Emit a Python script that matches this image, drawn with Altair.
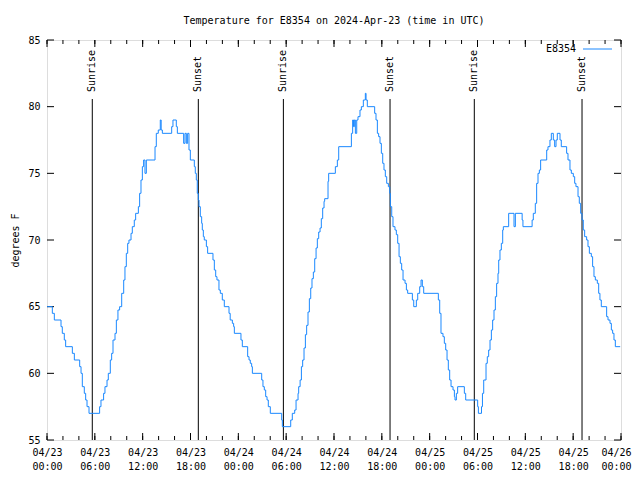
import altair as alt
import pandas as pd

hours = [0, 0.67, 0.92, 1.76, 1.92, 2.17, 2.34, 3.18, 3.43, 4.1, 4.27, 4.43, 4.68, 4.85, 5.02, 5.27,
         6.6, 6.77, 7.1, 7.27, 7.53, 7.69, 7.94, 8.11, 8.28, 8.53, 8.7, 8.9, 9.11, 9.37, 9.62, 9.78,
         9.95, 10.12, 10.28, 10.54, 10.7, 10.95, 11.12, 11.46, 11.62, 11.79, 11.96, 12.12, 12.29, 12.46,
         13.55, 13.71, 13.96, 14.21, 14.32, 14.47, 15.64, 15.8, 16.22, 16.35, 17.14, 17.31, 17.48, 17.64,
         17.81, 17.98, 18.48, 18.6, 18.73, 18.85, 18.98, 19.07, 19.23, 19.4, 19.48, 19.61, 19.73, 19.99,
         20.15, 20.82, 20.99, 21.16, 21.32, 21.57, 21.74, 21.99, 22.24, 22.83, 22.98, 23.25, 23.41, 23.5,
         24.33, 24.5, 25.17, 25.34, 25.5, 25.67, 25.76, 26.93, 27.09, 27.26, 27.43, 27.6, 27.76, 28.01,
         29.44, 29.52, 30.57, 30.77, 31.07, 31.24, 31.49, 31.57, 31.75, 31.91, 32.07, 32.24, 32.41, 32.57,
         32.74, 32.91, 33.08, 33.24, 33.41, 33.58, 33.75, 33.91, 34.08, 34.25, 34.41, 34.58, 34.75, 34.83,
         35.25, 35.33, 36.17, 36.42, 36.59, 38.18, 38.34, 38.45, 38.55, 38.68, 38.85, 39.01, 39.26, 39.43,
         39.68, 39.93, 40.02, 40.18, 41.1, 41.27, 41.44, 41.6, 41.77, 41.94, 42.11, 42.27, 42.44, 42.61,
         42.82, 42.99, 43.07, 43.24, 43.4, 43.65, 43.82, 43.99, 44.16, 44.32, 44.49, 44.66, 44.91, 45.08,
         45.24, 45.83, 46.0, 46.33, 46.5, 46.75, 46.92, 47.08, 47.25, 49.09, 49.26, 49.42, 49.67, 49.84,
         50.01, 50.18, 50.34, 50.51, 50.68, 50.93, 51.1, 51.18, 51.35, 51.51, 52.35, 52.52, 54.02, 54.11,
         54.5, 54.62, 54.78, 55.07, 55.23, 55.4, 55.57, 55.74, 55.9, 56.07, 56.24, 56.4, 56.57, 56.66,
         56.82, 56.99, 57.16, 57.24, 57.91, 58.58, 58.75, 59.6, 59.7, 60.85, 61.0, 61.25, 61.42, 61.59,
         61.76, 61.92, 62.68, 62.84, 63.09, 63.26, 63.51, 63.68, 63.85, 64.01, 64.35, 64.51, 65.18, 65.35,
         65.6, 65.77, 66.02, 66.19, 66.35, 66.61, 66.77, 66.94, 67.11, 67.27, 67.44, 67.69, 67.86, 68.03,
         68.28, 68.44, 68.61, 68.78, 69.03, 69.2, 69.36, 69.53, 70.2, 70.37, 70.62, 70.79, 70.95, 71.12,
         71.29, 71.9]
temps = [65, 64.5, 64, 63.5, 63, 62.5, 62, 61.5, 61, 60.5, 60, 59, 58.5, 58, 57.5, 57,
         57.5, 58, 58.5, 59, 59.5, 60, 61, 61.5, 62.5, 63, 64, 64.75, 65, 66, 67, 68,
         69, 69.75, 70, 70.5, 71, 71.5, 72, 72.5, 73.5, 74.5, 75.5, 76, 75, 76,
         77, 78, 78.25, 79, 78.25, 78, 78.5, 79, 78.5, 78, 77.25, 78, 77.25, 78,
         76.75, 76, 75.5, 75, 74.5, 73.5, 73, 72.5, 71.75, 71.25, 70.75, 70.25, 70, 69.5,
         69, 68.5, 67.75, 67.25, 67, 66.25, 66, 65.5, 65, 64.5, 64, 63.75, 63.5, 63,
         62.5, 62, 61.25, 61, 60.75, 60.5, 60, 59.5, 59, 58.75, 58.25, 58, 57.5, 57,
         56.5, 56, 56.5, 57, 57.25, 58, 58.5, 59, 59.5, 60.5, 61, 61.9, 62.9, 63.6,
         64.6, 65.6, 66.4, 67.1, 67.6, 68.6, 69.4, 70.1, 70.6, 70.9, 71.6, 72.4, 72.9, 73.1,
         74.4, 75, 75.5, 76, 77, 78, 79, 78.5, 79, 78, 79, 79.25, 79.75, 80,
         80.5, 81, 80.5, 80, 79.5, 79, 78, 77.75, 77.25, 76.5, 75.75, 75.25, 74.75, 74.25,
         74, 73.5, 72.5, 71.75, 71, 70.75, 70.4, 69.75, 68.75, 68.25, 67.75, 67, 66.75, 66.25,
         66, 65.5, 65, 65.5, 66, 66.5, 67, 66.5, 66, 65.5, 64.5, 63, 62.75, 62.25,
         61.75, 61, 60.25, 59.5, 59, 58.75, 58.25, 58, 58.5, 59, 58.5, 58, 57.5, 57,
         57.5, 58.5, 59.5, 60.75, 61.25, 61.75, 62.5, 63.25, 64, 64.75, 65.75, 66.75, 67.5, 68.5,
         69.25, 69.75, 70.75, 71, 72, 71, 72, 71.5, 71, 71.5, 72, 72.75, 74.25, 75,
         75.25, 76, 76.75, 77, 77.5, 78, 77.5, 77, 77.5, 78, 77.5, 77, 76.5, 76,
         75.25, 75, 74.75, 74.25, 74, 73.25, 72.75, 72, 71.5, 70.75, 70.25, 70, 69.5, 69,
         68.75, 68, 67.25, 67, 66.75, 66, 65.5, 65, 64.25, 64, 63.75, 63.25, 63, 62.5,
         62, 62]

event_hours = [5.68, 18.98, 29.65, 43.03, 53.6, 67.11]
event_names = ["Sunrise", "Sunset", "Sunrise", "Sunset", "Sunrise", "Sunset"]

x_major = list(range(0, 73, 6))
x_minor = list(range(0, 73, 2))
y_major = [55, 60, 65, 70, 75, 80, 85]

FONT = "DejaVu Sans Mono"
BLUE = "#1a88ff"
W, H = 574, 400

df = pd.DataFrame({"h": hours, "t": temps})
ev = pd.DataFrame({"h": event_hours, "name": event_names})
xmaj = pd.DataFrame({"h": x_major})
xmin = pd.DataFrame({"h": x_minor})
ymaj = pd.DataFrame({"t": y_major})

xs = alt.Scale(domain=[0, 72], nice=False, zero=False)
ys = alt.Scale(domain=[55, 85], nice=False, zero=False)

label_expr = ("['04/' + (23 + floor(datum.value / 24)), "
              "(datum.value % 24 < 10 ? '0' : '') + (datum.value % 24) + ':00']")

x_axis = alt.Axis(values=x_major, labelExpr=label_expr, tickSize=0, domain=False, grid=False,
                  title=None, labelFont=FONT, labelFontSize=10, labelColor="black",
                  labelPadding=7, labelLineHeight=14, labelOverlap=False, labelFlush=False,
                  labelBound=False,
                  labelOffset={"condition": {"test": "datum.value == 72", "value": -5}, "value": 0})
y_axis = alt.Axis(values=y_major, tickSize=0, domain=False, grid=False, title="degrees F",
                  labelFont=FONT, labelFontSize=10, labelColor="black", labelPadding=7,
                  titleFont=FONT, titleFontSize=10, titleFontWeight="normal", titleColor="black",
                  titleX=-32, titleY=200, titleAngle=270, titleAlign="center",
                  titleBaseline="middle")

line = alt.Chart(df).mark_line(interpolate="step-after", color=BLUE, strokeWidth=1).encode(
    x=alt.X("h:Q", scale=xs, axis=x_axis),
    y=alt.Y("t:Q", scale=ys, axis=y_axis),
)

ev_rules = alt.Chart(ev).mark_rule(color="black", strokeWidth=1).encode(
    x=alt.X("h:Q", scale=xs), y=alt.value(59), y2=alt.value(H))
ev_text = alt.Chart(ev).mark_text(angle=270, align="left", baseline="middle", font=FONT,
                                  fontSize=10, color="black").encode(
    x=alt.X("h:Q", scale=xs), y=alt.value(52), text="name:N")

bot_minor = alt.Chart(xmin).mark_rule(color="black").encode(
    x=alt.X("h:Q", scale=xs), y=alt.value(H), y2=alt.value(H - 4))
top_minor = alt.Chart(xmin).mark_rule(color="black").encode(
    x=alt.X("h:Q", scale=xs), y=alt.value(0), y2=alt.value(4))
bot_major = alt.Chart(xmaj).mark_rule(color="black").encode(
    x=alt.X("h:Q", scale=xs), y=alt.value(H), y2=alt.value(H - 7))
top_major = alt.Chart(xmaj).mark_rule(color="black").encode(
    x=alt.X("h:Q", scale=xs), y=alt.value(0), y2=alt.value(7))
left_ticks = alt.Chart(ymaj).mark_rule(color="black").encode(
    y=alt.Y("t:Q", scale=ys), x=alt.value(0), x2=alt.value(7))
right_ticks = alt.Chart(ymaj).mark_rule(color="black").encode(
    y=alt.Y("t:Q", scale=ys), x=alt.value(W), x2=alt.value(W - 7))

leg_text = alt.Chart(pd.DataFrame({"s": ["E8354"]})).mark_text(
    align="right", baseline="middle", font=FONT, fontSize=10, color="black").encode(
    x=alt.value(529), y=alt.value(9), text="s:N")
leg_line = alt.Chart(pd.DataFrame({"s": ["E8354"]})).mark_rule(color=BLUE, strokeWidth=1).encode(
    x=alt.value(536), x2=alt.value(565), y=alt.value(9))

chart = alt.layer(
    bot_minor, top_minor, bot_major, top_major, left_ticks, right_ticks,
    ev_rules, ev_text, line, leg_text, leg_line,
).properties(
    width=W, height=H,
    title=alt.TitleParams("Temperature for E8354 on 2024-Apr-23 (time in UTC)", font=FONT,
                          fontSize=10, fontWeight="normal", color="black", anchor="middle",
                          offset=9),
    autosize=alt.AutoSizeParams(type="none"),
    padding={"left": 39, "top": 32, "right": 11, "bottom": 32},
).configure_view(stroke="black", strokeWidth=1).configure(background="white")

chart.save("out.html", embed_options={"renderer": "svg", "actions": False})
